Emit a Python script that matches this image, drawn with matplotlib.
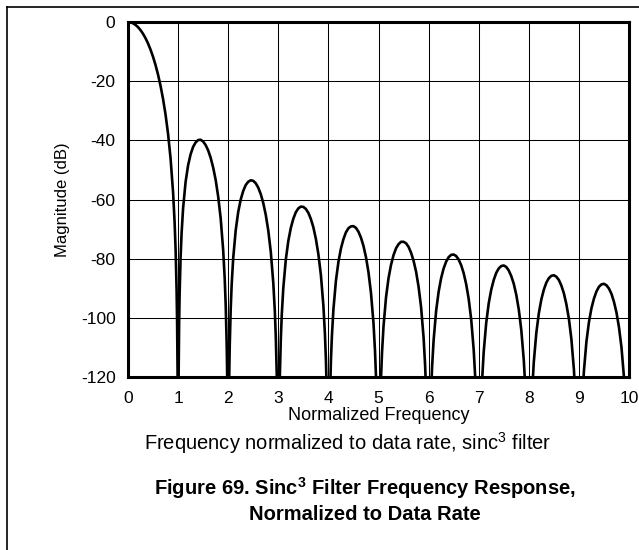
"""Sinc3 filter frequency response, normalized to data rate."""

import matplotlib
matplotlib.use("Agg")
import matplotlib.pyplot as plt
from matplotlib.lines import Line2D

plt.rcParams["font.family"] = ["Liberation Sans", "DejaVu Sans"]
plt.rcParams["axes.unicode_minus"] = False
plt.rcParams["mathtext.fontset"] = "custom"
plt.rcParams["mathtext.rm"] = "Liberation Sans"
plt.rcParams["mathtext.bf"] = "Liberation Sans:bold"

# main lobe (0..1)
main_freq = [0.0, 0.05, 0.1, 0.15, 0.2, 0.25, 0.3, 0.35, 0.4, 0.45, 0.5, 0.55, 0.6, 0.65,
             0.7, 0.75, 0.8, 0.85, 0.9, 0.93, 0.95, 0.97, 0.98, 0.99]
main_db = [0.0, -0.11, -0.43, -0.97, -1.74, -2.74, -3.98, -5.48, -7.26, -9.35, -11.77,
           -14.57, -17.83, -21.61, -26.06, -31.36, -37.86, -46.17, -57.68, -67.61,
           -76.83, -90.62, -101.4, -119.7]

# side lobes: position inside each lobe, lobe start, magnitude per lobe
lobe_offsets = [0.01, 0.02, 0.03, 0.05, 0.07, 0.1, 0.15, 0.2, 0.25, 0.3, 0.35, 0.4, 0.45, 0.5,
                0.55, 0.6, 0.65, 0.7, 0.75, 0.8, 0.85, 0.9, 0.93, 0.95, 0.97, 0.98, 0.99]
lobe_starts = [1, 2, 3, 4, 5, 6, 7, 8, 9]
lobe_db = [
    [-120.3, -102.5, -92.2, -79.4, -71.3, -62.9, -54.0, -48.4, -44.7, -42.2, -40.7, -39.9, -39.8, -40.4,
     -41.6, -43.4, -45.9, -49.2, -53.4, -59.0, -66.4, -77.2, -86.6, -95.6, -109.1, -119.8, -137.9],
    [-138.2, -120.3, -109.9, -96.9, -88.5, -79.8, -70.4, -64.2, -60.0, -57.1, -55.1, -54.0, -53.5, -53.7,
     -54.5, -56.0, -58.2, -61.2, -65.2, -70.5, -77.7, -88.2, -97.5, -106.4, -119.8, -130.4, -148.5],
    [-148.7, -130.8, -120.3, -107.2, -98.7, -89.9, -80.3, -74.0, -69.6, -66.5, -64.3, -63.0, -62.4, -62.5,
     -63.2, -64.5, -66.6, -69.4, -73.3, -78.5, -85.5, -95.9, -105.2, -114.0, -127.3, -138.0, -156.1],
    [-156.2, -138.2, -127.7, -114.6, -106.1, -97.2, -87.5, -81.1, -76.6, -73.4, -71.1, -69.7, -69.1, -69.0,
     -69.6, -70.9, -72.9, -75.7, -79.5, -84.6, -91.6, -101.8, -111.1, -119.8, -133.2, -143.8, -161.9],
    [-162.0, -144.0, -133.5, -120.4, -111.8, -102.9, -93.1, -86.6, -82.1, -78.8, -76.5, -75.1, -74.3, -74.3,
     -74.8, -76.0, -78.0, -80.7, -84.4, -89.5, -96.4, -106.7, -115.9, -124.6, -138.0, -148.6, -166.7],
    [-166.7, -148.7, -138.2, -125.1, -116.5, -107.6, -97.7, -91.2, -86.6, -83.3, -81.0, -79.5, -78.7, -78.6,
     -79.1, -80.3, -82.2, -84.9, -88.6, -93.6, -100.5, -110.8, -120.0, -128.7, -142.0, -152.6, -170.7],
    [-170.7, -152.7, -142.2, -129.1, -120.5, -111.5, -101.7, -95.1, -90.5, -87.2, -84.8, -83.3, -82.5, -82.3,
     -82.8, -84.0, -85.9, -88.5, -92.2, -97.2, -104.1, -114.3, -123.5, -132.2, -145.5, -156.1, -174.1],
    [-174.2, -156.2, -145.7, -132.5, -123.9, -114.9, -105.1, -98.5, -93.8, -90.5, -88.1, -86.6, -85.8, -85.6,
     -86.1, -87.2, -89.1, -91.7, -95.4, -100.3, -107.2, -117.4, -126.6, -135.3, -148.6, -159.2, -177.2],
    [-177.3, -159.3, -148.8, -135.6, -127.0, -118.0, -108.1, -101.5, -96.8, -93.5, -91.1, -89.5, -88.7, -88.5,
     -89.0, -90.1, -91.9, -94.6, -98.2, -103.2, -110.0, -120.2, -129.3, -138.0, -151.3, -161.9, -180.0],
]

x_ticks = [0, 1, 2, 3, 4, 5, 6, 7, 8, 9, 10]
y_ticks = [0, -20, -40, -60, -80, -100, -120]

freq = list(main_freq)
mag = list(main_db)
for start, vals in zip(lobe_starts, lobe_db):
    freq += [start + d for d in lobe_offsets]
    mag += vals

fig = plt.figure(figsize=(6.39, 5.5), dpi=100)
ax = fig.add_axes([128 / 639, 1 - 377 / 550, 501 / 639, 355 / 550])

ax.plot(freq, mag, color="black", linewidth=1.9, solid_joinstyle="round")
ax.set_xlim(0, 10)
ax.set_ylim(-120, 0)
ax.set_xticks(x_ticks)
ax.set_yticks(y_ticks)
ax.grid(True, color="black", linewidth=0.75)
ax.set_axisbelow(True)
for sp in ax.spines.values():
    sp.set_linewidth(2.2)
ax.tick_params(length=0, labelsize=12.5)
ax.tick_params(axis="x", pad=10)
ax.tick_params(axis="y", pad=9)

ax.set_xlabel("Normalized Frequency", fontsize=13, labelpad=1)
ax.set_ylabel("Magnitude (dB)", fontsize=12, labelpad=8)

fig.text(348 / 639, 1 - 443 / 550, "Frequency normalized to data rate, sinc$^3$ filter",
         ha="center", va="center", fontsize=14.5)
fig.text(365 / 639, 1 - 488 / 550, r"Figure 69. Sinc$^\mathbf{3}$ Filter Frequency Response,",
         ha="center", va="center", fontsize=14.5, fontweight="bold")
fig.text(365 / 639, 1 - 515 / 550, "Normalized to Data Rate",
         ha="center", va="center", fontsize=14.5, fontweight="bold")

# page frame (top and left edges)
fig.add_artist(Line2D([7 / 639, 1], [1 - 7 / 550, 1 - 7 / 550], color="black", linewidth=1.2))
fig.add_artist(Line2D([7 / 639, 7 / 639], [0, 1 - 7 / 550], color="black", linewidth=1.2))

fig.savefig("out.png", dpi=100)
